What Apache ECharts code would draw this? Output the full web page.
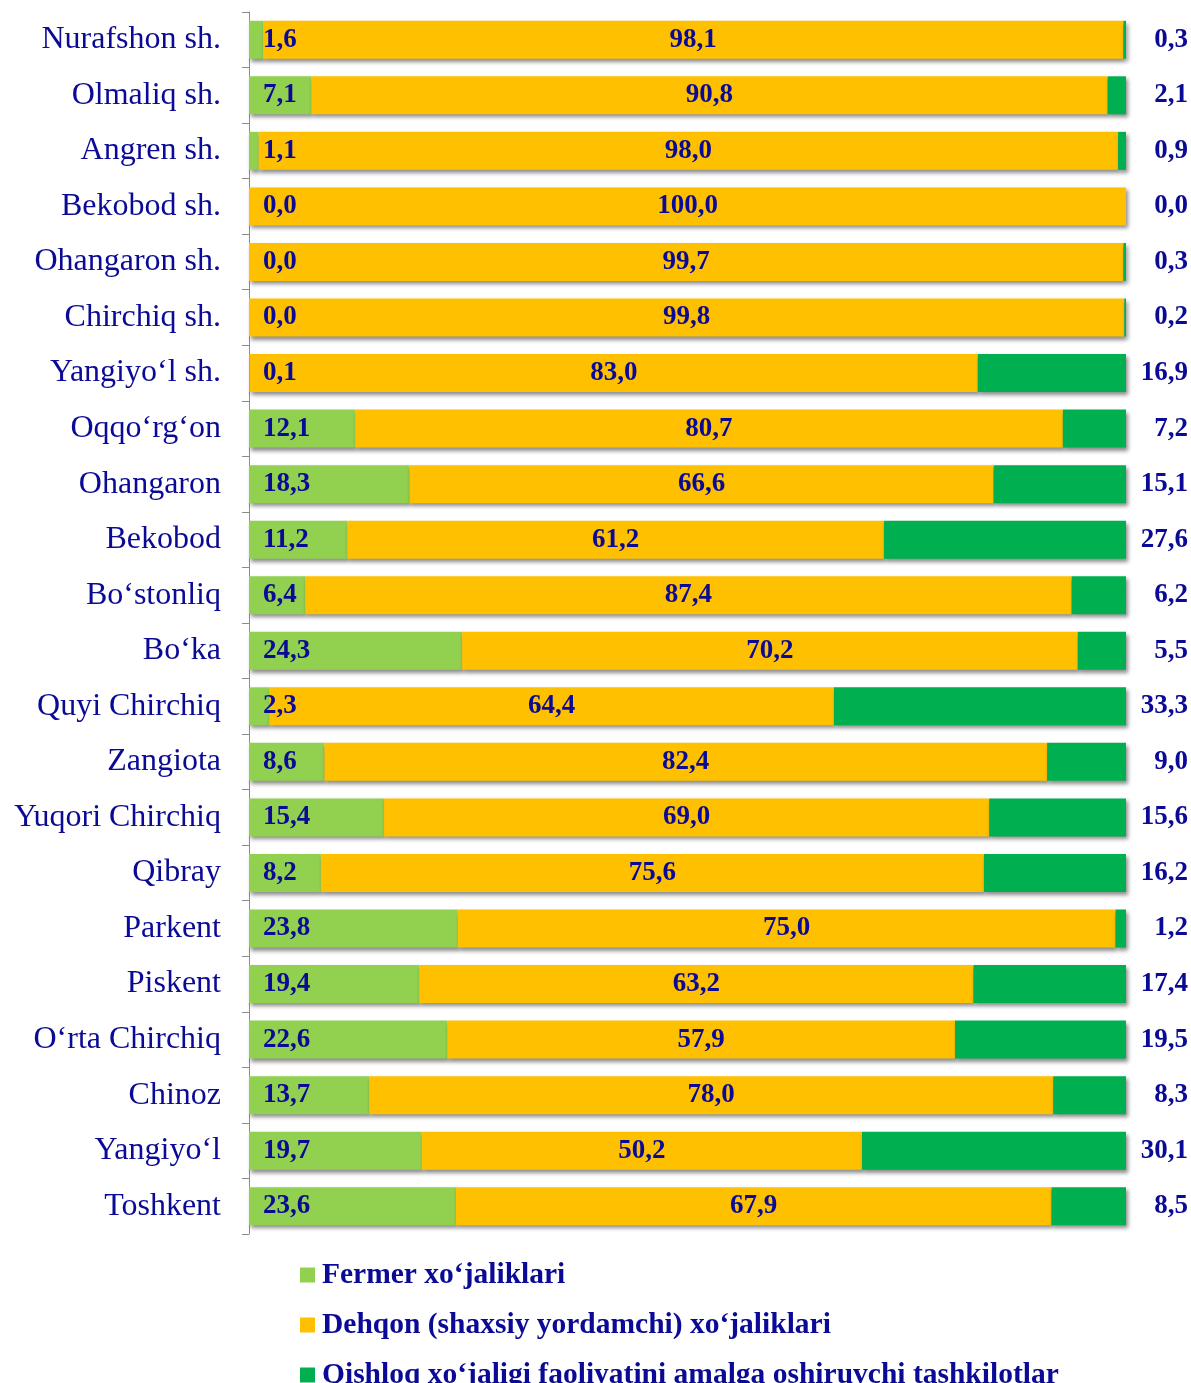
<!DOCTYPE html>
<html>
<head>
<meta charset="utf-8">
<script src="https://cdn.jsdelivr.net/npm/echarts@6/dist/echarts.min.js"></script>
<style>
  html, body { margin: 0; padding: 0; background: #fff; }
  #chart { width: 1191px; height: 1383px; }
</style>
</head>
<body>
<div id="chart"></div>
<script>
const categories = [
  'Nurafshon sh.', 'Olmaliq sh.', 'Angren sh.', 'Bekobod sh.', 'Ohangaron sh.',
  'Chirchiq sh.', 'Yangiyo‘l sh.', 'Oqqo‘rg‘on', 'Ohangaron', 'Bekobod',
  'Bo‘stonliq', 'Bo‘ka', 'Quyi Chirchiq', 'Zangiota', 'Yuqori Chirchiq',
  'Qibray', 'Parkent', 'Piskent', 'O‘rta Chirchiq', 'Chinoz', 'Yangiyo‘l', 'Toshkent'
]
const fermer = [1.6, 7.1, 1.1, 0.0, 0.0, 0.0, 0.1, 12.1, 18.3, 11.2, 6.4, 24.3, 2.3, 8.6, 15.4, 8.2, 23.8, 19.4, 22.6, 13.7, 19.7, 23.6]
const dehqon = [98.1, 90.8, 98.0, 100.0, 99.7, 99.8, 83.0, 80.7, 66.6, 61.2, 87.4, 70.2, 64.4, 82.4, 69.0, 75.6, 75.0, 63.2, 57.9, 78.0, 50.2, 67.9]
const qishloq = [0.3, 2.1, 0.9, 0.0, 0.3, 0.2, 16.9, 7.2, 15.1, 27.6, 6.2, 5.5, 33.3, 9.0, 15.6, 16.2, 1.2, 17.4, 19.5, 8.3, 30.1, 8.5]
const seriesNames = [
  'Fermer xo‘jaliklari',
  'Dehqon (shaxsiy yordamchi) xo‘jaliklari',
  'Qishloq xo‘jaligi faoliyatini amalga oshiruvchi tashkilotlar'
]

const textColor = '#0a0a96'
const fmt = p => p.value.toFixed(1).replace('.', ',')
const labelFont = {
  fontFamily: 'Liberation Serif',
  fontWeight: 'bold',
  fontSize: 27,
  color: textColor
}
const barShadow = {
  shadowColor: 'rgba(0,0,0,0.45)',
  shadowBlur: 4,
  shadowOffsetX: 2,
  shadowOffsetY: 3
}

const myChart = echarts.init(document.getElementById('chart'))
const option = {
  animation: false,
  grid: { left: 249, right: 65, top: 12, height: 1222 },
  legend: {
    orient: 'vertical',
    left: 300,
    top: 1260,
    height: 200,
    padding: 0,
    itemWidth: 15,
    itemHeight: 15,
    itemGap: 20,
    icon: 'rect',
    textStyle: {
      fontFamily: 'Liberation Serif',
      fontWeight: 'bold',
      fontSize: 29.5,
      color: textColor,
      padding: [0, 0, 0, 2]
    },
    data: seriesNames
  },
  xAxis: {
    type: 'value',
    min: 0,
    max: 100,
    show: false
  },
  yAxis: {
    type: 'category',
    inverse: true,
    data: categories,
    axisLine: { show: true, lineStyle: { color: '#8c8c8c', width: 1 } },
    axisTick: { show: true, length: 7, lineStyle: { color: '#8c8c8c' } },
    axisLabel: {
      margin: 28,
      fontFamily: 'Liberation Serif',
      fontSize: 32,
      color: textColor,
      padding: [4, 0, 0, 0]
    }
  },
  series: [
    {
      name: seriesNames[0],
      type: 'bar',
      stack: 'total',
      barWidth: 38,
      data: fermer,
      itemStyle: { color: '#92d050', ...barShadow },
      label: { show: true, position: 'insideLeft', distance: 14, formatter: fmt, ...labelFont }
    },
    {
      name: seriesNames[1],
      type: 'bar',
      stack: 'total',
      barWidth: 38,
      data: dehqon,
      itemStyle: { color: '#ffc000', ...barShadow },
      label: { show: true, position: 'inside', formatter: fmt, ...labelFont }
    },
    {
      name: seriesNames[2],
      type: 'bar',
      stack: 'total',
      barWidth: 38,
      data: qishloq,
      itemStyle: { color: '#00b050', ...barShadow },
      label: { show: true, position: 'right', distance: 62, align: 'right', formatter: fmt, ...labelFont }
    }
  ]
}
myChart.setOption(option)
</script>
</body>
</html>
